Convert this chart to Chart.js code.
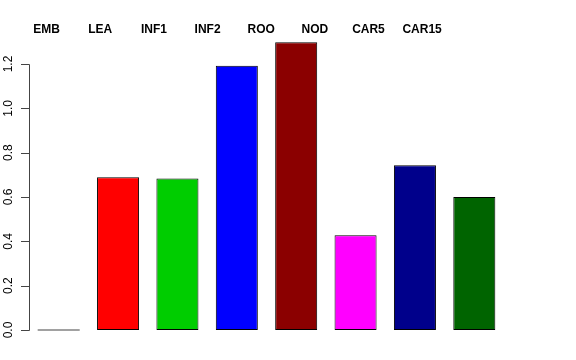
<!DOCTYPE html>
<html>
<head>
<meta charset="utf-8">
<script src="https://cdn.jsdelivr.net/npm/chart.js@4"></script>
<style>
body{margin:0;background:#fff;}
canvas{display:block;}
</style>
</head>
<body>
<canvas id="canvas" width="576" height="360"></canvas>
<script>
const categories=["EMB","LEA","INF1","INF2","ROO","NOD","CAR5","CAR15"];
const values=[0,0.689,0.683,1.192,1.298,0.427,0.743,0.600];
const barColors=["#444444","#FF0000","#00CD00","#0000FF","#8B0000","#FF00FF","#00008B","#006400"];
const yTicks=[0,0.2,0.4,0.6,0.8,1.0,1.2];

const fontFamily="'Liberation Sans', Arial, Helvetica, sans-serif";

// R style axis: line only over tick range, rotated labels
const rAxis={
    id:"rAxis",
    afterDraw(chart){
        const ctx=chart.ctx;
        const y=chart.scales.y;
        const x0=y.right;
        const top=y.getPixelForValue(yTicks[yTicks.length-1]);
        const bot=y.getPixelForValue(yTicks[0]);
        ctx.save();
        ctx.strokeStyle="#444";
        ctx.lineWidth=1;
        ctx.beginPath();
        ctx.moveTo(x0+0.5,Math.round(top)+0.5);
        ctx.lineTo(x0+0.5,Math.round(bot)+0.5);
        yTicks.forEach(v=>{
            const p=Math.round(y.getPixelForValue(v))+0.5;
            ctx.moveTo(x0-8,p);
            ctx.lineTo(x0+0.5,p);
        });
        ctx.stroke();
        ctx.fillStyle="#000";
        ctx.font="12px "+fontFamily;
        ctx.textAlign="center";
        ctx.textBaseline="middle";
        yTicks.forEach(v=>{
            const p=y.getPixelForValue(v);
            ctx.save();
            ctx.translate(8.5,p);
            ctx.rotate(-Math.PI/2);
            ctx.fillText(v.toFixed(1),0,0);
            ctx.restore();
        });
        ctx.restore();
    }
};

new Chart(document.getElementById("canvas"),{
    type:"bar",
    data:{
        labels:categories,
        datasets:[{
            data:values,
            backgroundColor:barColors,
            borderColor:"#000",
            borderWidth:values.map(v=>v===0?0:1),
            borderSkipped:false,
            minBarLength:1,
            categoryPercentage:1,
            barPercentage:0.708
        }]
    },
    options:{
        responsive:false,
        animation:false,
        devicePixelRatio:1,
        layout:{padding:{left:0,right:72,top:0,bottom:20}},
        plugins:{legend:{display:false},tooltip:{enabled:false}},
        scales:{
            x:{
                display:false
            },
            x2:{
                type:"linear",
                position:"top",
                offset:false,
                bounds:"data",
                min:0.671,
                max:9.527,
                grid:{display:false,drawTicks:false,offset:false},
                border:{display:false},
                afterBuildTicks:scale=>{
                    scale.ticks=categories.map((c,i)=>({value:i+1}));
                },
                afterFit:scale=>{scale.height=40;},
                ticks:{
                    autoSkip:false,
                    maxRotation:0,
                    padding:3,
                    color:"#000",
                    font:{family:fontFamily,size:12,weight:"bold"},
                    callback:v=>categories[v-1]
                }
            },
            y:{
                min:-0.0451,
                max:1.3083,
                grid:{display:false,drawTicks:false},
                border:{display:false},
                ticks:{display:false},
                afterBuildTicks:scale=>{
                    scale.ticks=yTicks.map(v=>({value:v}));
                },
                afterFit:scale=>{scale.width=29;}
            }
        }
    },
    plugins:[rAxis]
});
</script>
</body>
</html>
